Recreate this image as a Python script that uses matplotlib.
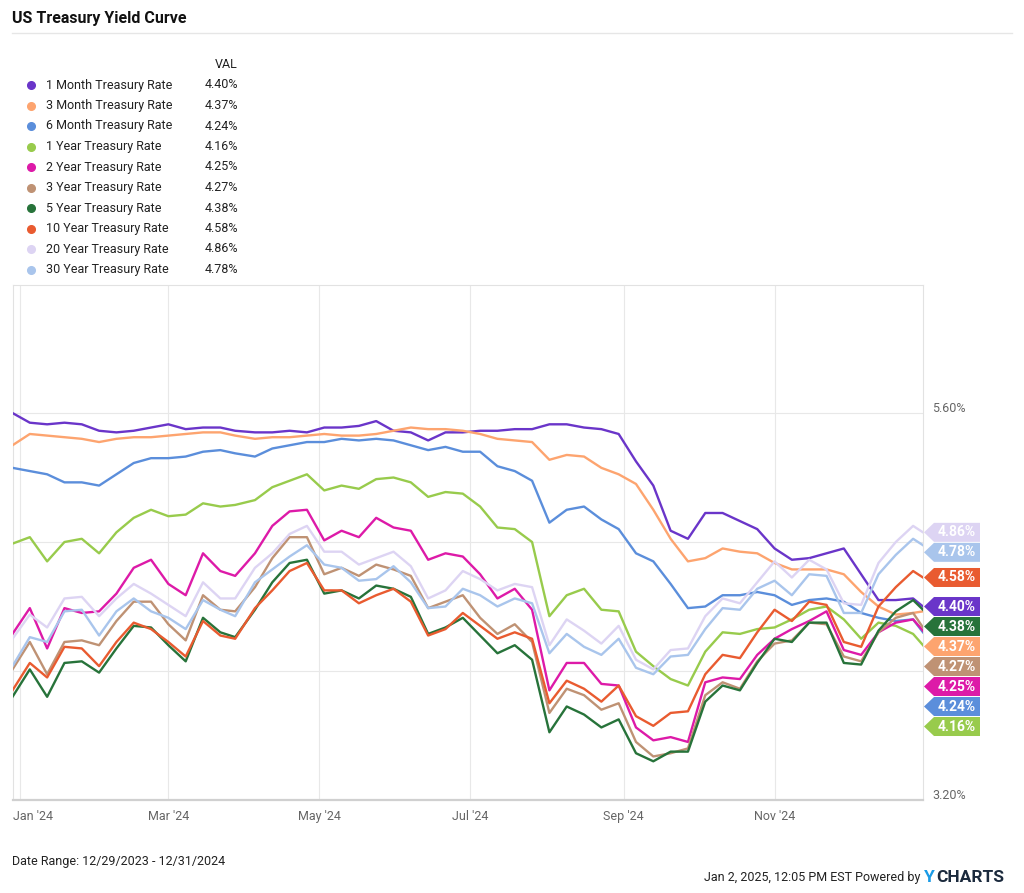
import matplotlib
matplotlib.use("Agg")
import matplotlib.pyplot as plt
import matplotlib.dates as mdates
import matplotlib.transforms as mtransforms
from matplotlib.patches import Polygon
from matplotlib.lines import Line2D
import numpy as np
from datetime import datetime

plt.rcParams['font.family'] = ['Roboto', 'DejaVu Sans']

# weekly closes
dates = ["2023-12-29", "2024-01-05", "2024-01-12", "2024-01-19", "2024-01-26",
         "2024-02-02", "2024-02-09", "2024-02-16", "2024-02-23", "2024-03-01",
         "2024-03-08", "2024-03-15", "2024-03-22", "2024-03-28", "2024-04-05",
         "2024-04-12", "2024-04-19", "2024-04-26", "2024-05-03", "2024-05-10",
         "2024-05-17", "2024-05-24", "2024-05-31", "2024-06-07", "2024-06-14",
         "2024-06-21", "2024-06-28", "2024-07-05", "2024-07-12", "2024-07-19",
         "2024-07-26", "2024-08-02", "2024-08-09", "2024-08-16", "2024-08-23",
         "2024-08-30", "2024-09-06", "2024-09-13", "2024-09-20", "2024-09-27",
         "2024-10-04", "2024-10-11", "2024-10-18", "2024-10-25", "2024-11-01",
         "2024-11-08", "2024-11-15", "2024-11-22", "2024-11-29", "2024-12-06",
         "2024-12-13", "2024-12-20", "2024-12-27", "2024-12-31"]

m1 = [5.60, 5.54, 5.53, 5.54, 5.53, 5.49, 5.48, 5.49, 5.51, 5.53, 5.50, 5.51, 5.51, 5.49,
      5.48, 5.48, 5.49, 5.48, 5.51, 5.51, 5.52, 5.55, 5.49, 5.48, 5.43, 5.48, 5.48, 5.49,
      5.49, 5.50, 5.50, 5.53, 5.53, 5.51, 5.50, 5.47, 5.30, 5.15, 4.87, 4.82, 4.98, 4.98,
      4.93, 4.88, 4.76, 4.69, 4.70, 4.73, 4.76, 4.60, 4.44, 4.44, 4.45, 4.40]
m3 = [5.40, 5.47, 5.46, 5.45, 5.44, 5.42, 5.44, 5.45, 5.45, 5.46, 5.47, 5.48, 5.48, 5.46,
      5.44, 5.45, 5.45, 5.46, 5.47, 5.46, 5.46, 5.47, 5.49, 5.51, 5.50, 5.50, 5.49, 5.47,
      5.44, 5.43, 5.42, 5.31, 5.34, 5.33, 5.26, 5.22, 5.16, 5.00, 4.82, 4.68, 4.70, 4.76,
      4.74, 4.73, 4.67, 4.63, 4.63, 4.63, 4.60, 4.49, 4.40, 4.35, 4.36, 4.37]
m6 = [5.26, 5.24, 5.22, 5.17, 5.17, 5.15, 5.22, 5.29, 5.32, 5.32, 5.33, 5.36, 5.37, 5.35,
      5.33, 5.38, 5.40, 5.42, 5.42, 5.44, 5.43, 5.44, 5.43, 5.40, 5.37, 5.39, 5.36, 5.36,
      5.27, 5.24, 5.18, 4.92, 5.00, 5.02, 4.94, 4.88, 4.73, 4.68, 4.54, 4.39, 4.40, 4.47,
      4.47, 4.49, 4.47, 4.41, 4.44, 4.45, 4.43, 4.36, 4.33, 4.31, 4.32, 4.24]
y1 = [4.79, 4.83, 4.68, 4.80, 4.82, 4.73, 4.86, 4.95, 5.00, 4.96, 4.97, 5.04, 5.02, 5.03,
      5.06, 5.14, 5.18, 5.22, 5.12, 5.15, 5.13, 5.19, 5.20, 5.17, 5.08, 5.11, 5.10, 5.02,
      4.89, 4.88, 4.80, 4.34, 4.47, 4.51, 4.38, 4.37, 4.12, 4.03, 3.95, 3.91, 4.12, 4.24,
      4.23, 4.26, 4.27, 4.32, 4.38, 4.40, 4.32, 4.20, 4.30, 4.28, 4.23, 4.16]
y2 = [4.23, 4.39, 4.14, 4.39, 4.36, 4.37, 4.48, 4.64, 4.69, 4.54, 4.47, 4.73, 4.62, 4.59,
      4.73, 4.90, 4.99, 5.00, 4.81, 4.87, 4.83, 4.95, 4.89, 4.87, 4.69, 4.73, 4.71, 4.60,
      4.45, 4.51, 4.38, 3.88, 4.05, 4.05, 3.92, 3.91, 3.65, 3.57, 3.59, 3.56, 3.93, 3.96,
      3.95, 4.10, 4.20, 4.26, 4.31, 4.37, 4.13, 4.10, 4.24, 4.30, 4.32, 4.25]
y3 = [4.01, 4.18, 3.98, 4.18, 4.19, 4.16, 4.31, 4.43, 4.43, 4.29, 4.19, 4.47, 4.38, 4.37,
      4.52, 4.70, 4.83, 4.83, 4.60, 4.64, 4.59, 4.66, 4.63, 4.59, 4.39, 4.43, 4.47, 4.33,
      4.23, 4.29, 4.18, 3.74, 3.89, 3.85, 3.76, 3.80, 3.56, 3.47, 3.49, 3.52, 3.85, 3.93,
      3.89, 4.06, 4.17, 4.19, 4.30, 4.29, 4.09, 4.06, 4.24, 4.33, 4.36, 4.27]
y5 = [3.84, 4.01, 3.84, 4.05, 4.06, 3.99, 4.14, 4.28, 4.27, 4.16, 4.06, 4.33, 4.24, 4.21,
      4.38, 4.55, 4.67, 4.69, 4.48, 4.50, 4.45, 4.53, 4.51, 4.46, 4.23, 4.27, 4.33, 4.22,
      4.11, 4.16, 4.07, 3.62, 3.78, 3.73, 3.65, 3.70, 3.49, 3.44, 3.50, 3.50, 3.81, 3.91,
      3.88, 4.05, 4.20, 4.18, 4.30, 4.30, 4.05, 4.04, 4.25, 4.37, 4.44, 4.38]
y10 = [3.88, 4.05, 3.96, 4.15, 4.14, 4.03, 4.18, 4.30, 4.26, 4.18, 4.09, 4.31, 4.22, 4.20,
       4.39, 4.50, 4.62, 4.67, 4.50, 4.50, 4.42, 4.47, 4.51, 4.43, 4.22, 4.26, 4.36, 4.28,
       4.20, 4.24, 4.20, 3.80, 3.94, 3.89, 3.81, 3.91, 3.72, 3.66, 3.74, 3.75, 3.98, 4.10,
       4.08, 4.24, 4.38, 4.31, 4.43, 4.41, 4.18, 4.15, 4.40, 4.52, 4.62, 4.58]
y20 = [4.20, 4.35, 4.27, 4.45, 4.46, 4.34, 4.45, 4.54, 4.48, 4.41, 4.34, 4.55, 4.45, 4.45,
       4.64, 4.73, 4.85, 4.90, 4.74, 4.74, 4.66, 4.70, 4.74, 4.65, 4.45, 4.50, 4.62, 4.57,
       4.50, 4.54, 4.52, 4.16, 4.32, 4.25, 4.17, 4.28, 4.07, 4.01, 4.13, 4.14, 4.34, 4.45,
       4.42, 4.55, 4.68, 4.58, 4.69, 4.63, 4.42, 4.41, 4.67, 4.80, 4.90, 4.86]
y30 = [4.03, 4.21, 4.18, 4.37, 4.38, 4.22, 4.37, 4.45, 4.37, 4.33, 4.26, 4.44, 4.38, 4.34,
       4.55, 4.63, 4.71, 4.78, 4.66, 4.64, 4.56, 4.57, 4.65, 4.55, 4.39, 4.40, 4.51, 4.47,
       4.40, 4.45, 4.42, 4.11, 4.23, 4.15, 4.10, 4.20, 4.02, 3.98, 4.09, 4.10, 4.26, 4.39,
       4.38, 4.51, 4.56, 4.47, 4.60, 4.59, 4.36, 4.36, 4.60, 4.72, 4.82, 4.78]

names = ["1 Month Treasury Rate", "3 Month Treasury Rate", "6 Month Treasury Rate",
         "1 Year Treasury Rate", "2 Year Treasury Rate", "3 Year Treasury Rate",
         "5 Year Treasury Rate", "10 Year Treasury Rate", "20 Year Treasury Rate",
         "30 Year Treasury Rate"]
series = [m1, m3, m6, y1, y2, y3, y5, y10, y20, y30]
colors = ["#6a35c9", "#fda46f", "#5b8edb", "#98cb4c", "#dd1aa8",
          "#bf9274", "#27733a", "#e95b30", "#ddd4f3", "#a9c5ec"]

x = [datetime.strptime(d, "%Y-%m-%d") for d in dates]

W, H = 1024, 893
fig = plt.figure(figsize=(W / 100, H / 100), dpi=100)
# plot box in pixels: left 12.5, right 923, top 285, bottom 800
ax = fig.add_axes([12.5 / W, (H - 800) / H, (923 - 12.5) / W, (800 - 285) / H])

for vals, c in zip(series, colors):
    ax.plot(x, vals, color=c, lw=1.7, zorder=3)

ax.set_xlim(x[0], x[-1])
ax.set_ylim(3.20, 6.394)

ticks = [datetime(2024, m, 1) for m in (1, 3, 5, 7, 9, 11)]
ax.set_xticks(ticks)
ax.set_xticklabels(["Jan '24", "Mar '24", "May '24", "Jul '24", "Sep '24", "Nov '24"])
ax.set_yticks([3.2, 4.0, 4.8, 5.6])
ax.set_yticklabels([])
ax.tick_params(axis="both", length=0)
ax.tick_params(axis="x", colors="#666666", labelsize=9, pad=7)
ax.grid(True, color="#e8e8e8", lw=0.8, zorder=0)
first = ax.get_xticklabels()[0]
first.set_ha("left")
first.set_transform(first.get_transform() +
                    mtransforms.ScaledTranslation(-7 / 100, 0, fig.dpi_scale_trans))

for s in ["left", "right", "top"]:
    ax.spines[s].set_color("#e2e2e2")
    ax.spines[s].set_linewidth(0.8)
ax.spines["bottom"].set_color("#d0d0d0")
ax.spines["bottom"].set_linewidth(1.6)

# right axis labels (only top and bottom shown)
for v in (5.6, 3.2):
    ax.text(1.01, v + 5 / 161.25, f"{v:.2f}%", transform=ax.get_yaxis_transform(),
            ha="left", va="center", fontsize=9, color="#666666")

# end-value tags, stacked so they don't overlap
last = [s[-1] for s in series]
order = np.argsort(last)[::-1]
gap = 20 / 161.25
tag_y = {}
prev = None
for i in order:
    y = last[i]
    if prev is not None and prev - y < gap:
        y = prev - gap
    tag_y[i] = y
    prev = y

to_fig = fig.transFigure.inverted()
for i in order:
    disp = ax.transData.transform((mdates.date2num(x[-1]), tag_y[i]))
    fy = to_fig.transform(disp)[1]
    h = 9.5 / H
    tip, left, right = 924 / W, 934 / W, 980 / W
    poly = Polygon([(tip, fy), (left, fy + h), (right, fy + h), (right, fy - h), (left, fy - h)],
                   closed=True, transform=fig.transFigure, facecolor=colors[i],
                   edgecolor="none", zorder=5)
    fig.add_artist(poly)
    fig.text(957 / W, fy, f"{last[i]:.2f}%", ha="center", va="center",
             fontsize=10, fontweight="bold", color="white", zorder=6)

# title
fig.text(12 / W, 1 - 18 / H, "US Treasury Yield Curve", ha="left", va="center",
         fontsize=11.5, fontweight="bold", color="#111111")
fig.add_artist(Line2D([12 / W, 1012 / W], [1 - 33 / H, 1 - 33 / H], color="#e6e6e6",
                      lw=1, transform=fig.transFigure))

# legend
fig.text(238 / W, 1 - 64 / H, "VAL", ha="right", va="center", fontsize=9, color="#222222")
for k, (n, c) in enumerate(zip(names, colors)):
    fy = 1 - (85 + 20.5 * k) / H
    fig.add_artist(Line2D([31 / W], [fy], marker="o", ms=5.5, color=c, lw=0,
                          transform=fig.transFigure))
    fig.text(46 / W, fy, n, ha="left", va="center", fontsize=9, color="#222222")
    fig.text(238 / W, fy, f"{series[k][-1]:.2f}%", ha="right", va="center",
             fontsize=9, color="#222222")

# footer
fig.text(12 / W, 1 - 862 / H, "Date Range: 12/29/2023 - 12/31/2024", ha="left", va="center",
         fontsize=9, color="#222222")
fig.text(920 / W, 1 - 878 / H, "Jan 2, 2025, 12:05 PM EST Powered by", ha="right",
         va="center", fontsize=9, color="#222222")
fig.text(924 / W, 1 - 877 / H, "Y", ha="left", va="center", fontsize=12.5,
         fontweight="bold", color="#1a9be6")
fig.text(936 / W, 1 - 877 / H, "CHARTS", ha="left", va="center", fontsize=12.5,
         fontweight="bold", color="#1b2a3d")

fig.savefig("out.png", dpi=100)
